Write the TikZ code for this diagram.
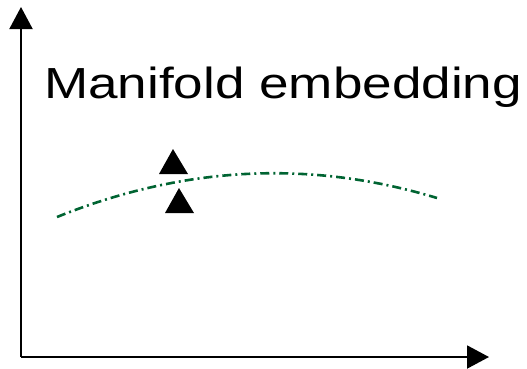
\documentclass[tikz,border=0pt]{standalone}
\usepackage{fontspec}
\setmainfont{Liberation Sans}
\usetikzlibrary{arrows.meta}
\definecolor{curvegreen}{RGB}{0,100,50}
\begin{document}
\begin{tikzpicture}[x=1pt,y=-1pt,
  axis/.style={line width=2pt,-{Triangle[length=22pt,width=23pt]}},
  marker/.style={fill=black},
  manifold/.style={curvegreen,line width=2.6pt,dash pattern=on 9pt off 4pt on 2pt off 4pt}]
\useasboundingbox (0,0) rectangle (527,368);
\coordinate (o) at (21,357);
\coordinate (ytop) at (21,7);
\coordinate (xend) at (489,357);
\draw[axis] (o) -- (ytop);
\draw[axis] (o) -- (xend);
\node[anchor=base west,inner sep=0pt,font=\fontsize{43.5}{50}\selectfont] (title) at (44,98) {\scalebox{1.22}[1]{Manifold embedding}};
\coordinate (c0) at (57,217);
\coordinate (c1) at (437,198);
\draw[manifold] (c0) .. controls (183.7,165.9) and (310.3,159.5) .. (c1);
\fill[marker] (173,149) -- (188,174) -- (159,174) -- cycle;
\fill[marker] (179,188) -- (194,213) -- (165,213) -- cycle;
\end{tikzpicture}
\end{document}
